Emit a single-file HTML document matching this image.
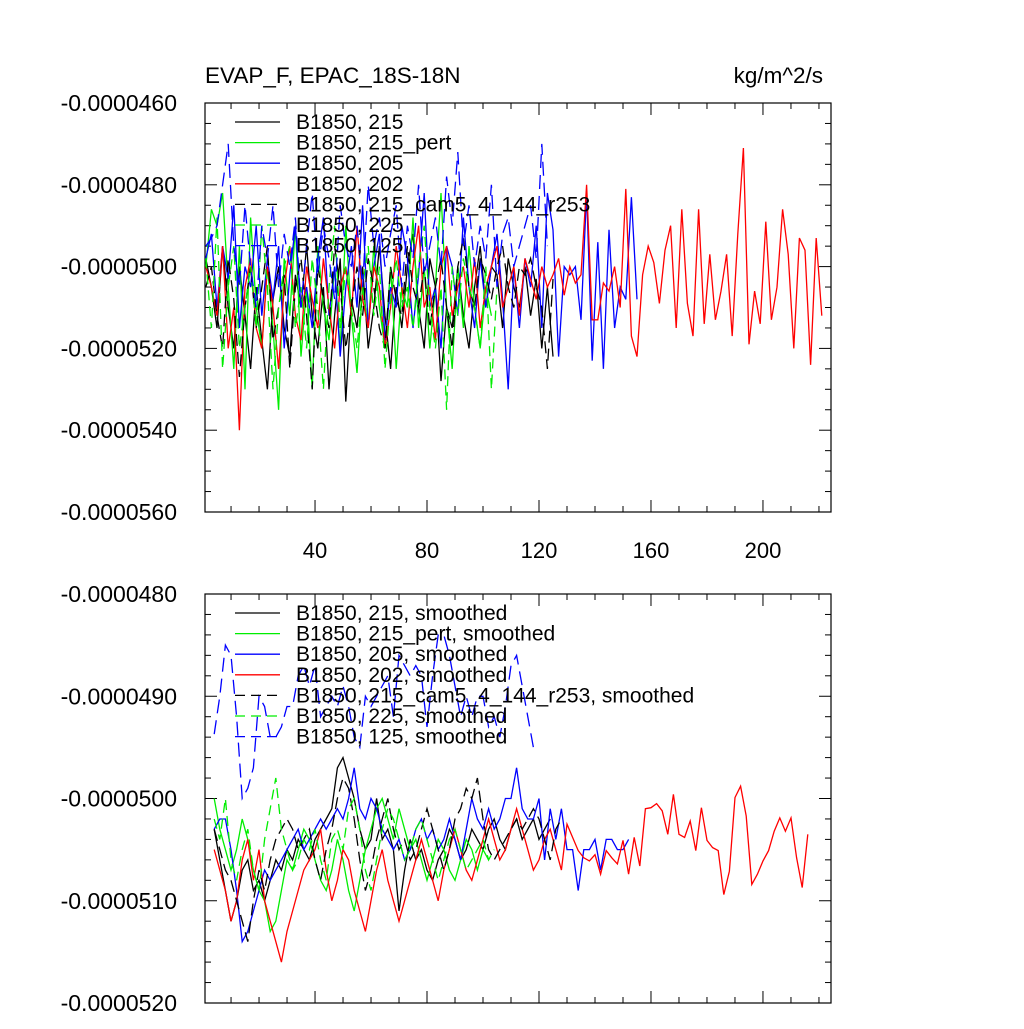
<!DOCTYPE html>
<html><head><meta charset="utf-8"><style>
body{margin:0;background:#fff;}
svg text{font-family:"Liberation Sans",sans-serif;}
</style></head><body>
<svg id="chart" width="1024" height="1024" xmlns="http://www.w3.org/2000/svg"></svg>
<script>
// ---- data (values in units of 1e-7 kg/m^2/s) ----
const xTicks = [40, 80, 120, 160, 200];
const topYTicks = [-460, -480, -500, -520, -540, -560];
const botYTicks = [-480, -490, -500, -510, -520];
const legendTop = ["B1850, 215", "B1850, 215_pert", "B1850, 205", "B1850, 202", "B1850, 215_cam5_4_144_r253", "B1850, 225", "B1850, 125"];
const legendBot = ["B1850, 215, smoothed", "B1850, 215_pert, smoothed", "B1850, 205, smoothed", "B1850, 202, smoothed", "B1850, 215_cam5_4_144_r253, smoothed", "B1850, 225, smoothed", "B1850, 125, smoothed"];
// top panel raw series: start t=1, step 2
const topBlack = [-498,-505,-515,-495,-510,-520,-500,-512,-525,-505,-518,-530,-508,-500,-515,-522,-502,-510,-495,-512,-520,-505,-530,-512,-498,-533,-508,-515,-500,-520,-510,-495,-512,-525,-505,-515,-500,-492,-510,-520,-498,-505,-528,-510,-515,-500,-512,-520,-505,-495,-510,-500,-502,-515,-498,-505,-510,-500,-512,-503,-520,-505,-522];
const topGreen = [-500,-486,-490,-482,-505,-525,-495,-530,-488,-510,-520,-500,-515,-535,-498,-512,-490,-522,-505,-530,-495,-510,-518,-500,-520,-490,-512,-526,-505,-515,-495,-510,-520,-500,-525,-505,-510,-488,-515,-500,-520,-505,-482,-510,-525,-500,-515,-495,-510,-520,-505,-512];
const topBlue = [-498,-492,-510,-495,-503,-485,-515,-500,-505,-490,-512,-498,-508,-495,-520,-502,-490,-510,-505,-515,-498,-488,-512,-500,-522,-505,-495,-510,-485,-515,-500,-492,-518,-505,-510,-490,-498,-515,-502,-482,-510,-505,-520,-495,-500,-512,-488,-505,-515,-498,-510,-500,-492,-508,-530,-500,-515,-498,-505,-490,-515,-482,-491,-522,-500,-502,-500,-513,-482,-523,-494,-525,-491,-515,-505,-508,-483,-508];
const topRed = [-500,-505,-512,-495,-520,-510,-540,-505,-498,-515,-520,-500,-510,-525,-505,-495,-512,-518,-500,-508,-515,-498,-510,-520,-505,-500,-512,-490,-508,-515,-500,-505,-520,-510,-495,-505,-515,-500,-490,-510,-505,-518,-500,-495,-512,-505,-500,-510,-498,-515,-505,-500,-495,-510,-505,-500,-512,-498,-503,-508,-500,-505,-502,-498,-507,-500,-504,-502,
 -480,-513,-513,-504,-506,-500,-510,-481,-517,-522,-502,-495,-499,-509,-496,-490,-515,-486,-509,-517,-486,-514,-497,-513,-506,-497,-517,-492,-471,-519,-506,-514,-489,-513,-505,-486,-497,-520,-493,-496,-524,-493,-512];
const topBlackDash = [-505,-500,-512,-520,-498,-508,-527,-510,-500,-515,-505,-495,-518,-510,-502,-525,-505,-498,-512,-530,-500,-508,-515,-495,-505,-520,-510,-500,-512,-498,-505,-515,-520,-500,-508,-512,-495,-505,-510,-500,-515,-505,-498,-510,-520,-500,-493,-505,-510,-498,-502,-508,-500,-495,-505,-510,-500,-502,-498,-505,-510,-525,-503];
const topGreenDash = [-498,-515,-488,-525,-505,-495,-520,-510,-500,-515,-490,-505,-530,-510,-500,-495,-515,-505,-520,-498,-510,-530,-505,-490,-515,-500,-510,-520,-505,-495,-512,-500,-525,-508,-498,-510,-505,-515,-500,-490,-510,-520,-505,-535,-500,-512,-498,-505,-510,-520,-500,-530,-505];
const topBlueDash = [-495,-493,-490,-480,-470,-495,-505,-485,-500,-510,-490,-498,-485,-505,-492,-500,-488,-510,-495,-482,-502,-490,-498,-508,-485,-495,-500,-490,-505,-480,-495,-488,-500,-492,-485,-505,-490,-498,-480,-502,-495,-488,-500,-478,-490,-472,-495,-485,-500,-490,-498,-480,-505,-492,-488,-500,-495,-490,-485,-498,-470,-495];
// bottom panel smoothed series: start t=4, step 2
const botBlack = [-503,-506,-509,-512,-510,-507,-506,-509,-508,-510,-508,-506,-507,-505,-506,-504,-505,-506,-504,-503,-502,-501,-497,-496,-498,-500,-503,-505,-504,-500,-504,-503,-505,-511,-507,-504,-506,-505,-507,-508,-506,-505,-503,-504,-506,-505,-503,-504,-505,-503,-502,-504,-505,-503,-502,-504,-503,-502,-504,-503,-502];
const botGreen = [-500,-503,-505,-507,-505,-502,-504,-507,-509,-510,-513,-512,-509,-506,-507,-505,-503,-504,-506,-508,-509,-507,-504,-506,-509,-511,-508,-505,-503,-501,-500,-502,-504,-501,-503,-505,-504,-506,-508,-506,-504,-505,-507,-508,-506,-504,-505,-507,-505,-506];
const botBlue = [-503,-502,-502,-505,-509,-514,-513,-511,-509,-507,-508,-507,-506,-505,-504,-503,-505,-504,-503,-502,-503,-502,-501,-502,-500,-497,-501,-502,-500,-501,-503,-504,-505,-504,-506,-505,-503,-502,-504,-503,-505,-504,-502,-504,-506,-503,-500,-502,-503,-501,-503,-502,-500,-500,-497,-501,-502,-502,-500,-506,-501,-504,-501,-505,-505,-509,-505,-505,-504,-507,-504,-504,-505,-505,-504];
const botRed = [-505,-507,-509,-512,-510,-506,-504,-508,-505,-510,-512,-514,-516,-513,-511,-509,-507,-506,-505,-503,-507,-510,-508,-505,-506,-509,-511,-513,-510,-507,-505,-508,-510,-512,-510,-508,-506,-504,-506,-508,-510,-507,-505,-503,-505,-507,-508,-506,-504,-502,-504,-506,-505,-503,-501,-503,-505,-507,-506,-504,-503,-505,-507,
 -502.5,-503.8,-505.1,-505.8,-506.1,-505.5,-507.4,-505.1,-505.8,-506.4,-504.1,-507.4,-503.8,-506.6,-501.0,-500.9,-500.5,-501.2,-503.5,-499.6,-503.5,-503.8,-502.2,-505.1,-500.9,-504.1,-504.8,-505.1,-509.4,-507.1,-499.9,-498.8,-501.7,-508.4,-507.4,-506.1,-505.1,-503.2,-501.9,-503.2,-501.9,-505.8,-508.7,-503.5];
const botBlackDash = [-503,-505,-507,-508,-510,-512,-514,-510,-507,-509,-506,-504,-503,-502,-503,-505,-504,-503,-506,-508,-505,-503,-500,-498,-499,-502,-506,-509,-507,-504,-502,-500,-503,-505,-504,-506,-505,-503,-501,-503,-505,-507,-505,-502,-501,-499,-500,-498,-502,-505,-506,-505,-504,-503,-502,-503,-502,-501,-502,-504,-506,-503,-502];
const botGreenDash = [-502,-504,-500,-506,-508,-505,-503,-507,-509,-504,-501,-498,-503,-505,-507,-506,-504,-505,-503,-506,-508,-504,-503,-505,-501,-500,-503,-507,-509,-506,-503,-501,-502,-504,-506,-505,-503,-502,-504,-506,-508,-506,-504,-503,-505,-507,-506,-505,-504,-506,-505];
const botBlueDash = [-493.7,-490,-485,-486,-492,-500,-499,-497,-490,-491,-494,-494,-493,-491,-491,-488,-487,-489,-487,-492,-491,-490,-491,-489,-491,-494,-495,-490,-491,-490,-489,-488,-492,-486,-487,-488,-487,-488,-493,-488,-484,-484,-486,-489,-492,-490,-492,-490,-490,-493,-492,-494,-491,-487,-486,-489,-492,-495,-495];

// ---- layout ----
const NS = "http://www.w3.org/2000/svg";
const svg = document.getElementById('chart');
const L = 205, R = 831, XMIN = 0.7, XMAX = 224.3;
const xs = t => L + (t - XMIN) / (XMAX - XMIN) * (R - L);
const topY = v => 103 + (-460 - v) / 100 * 409;
const botY = v => 594 + (-480 - v) / 40 * 409;
function mk(tag, attrs, parent) {
  const e = document.createElementNS(NS, tag);
  for (const k in attrs) e.setAttribute(k, attrs[k]);
  (parent || svg).appendChild(e);
  return e;
}
function fmt(v) { return (v * 1e-7).toFixed(7); }

function panel(name, T, B, yfn, yticks, minorStep, xLabels) {
  const g = mk('g', {});
  
  
  const fr = mk('rect', {x: L, y: T, width: R - L, height: B - T, fill: 'none', stroke: '#000', 'stroke-width': 1.2}, g);
  
  
  const ymax = yticks[0], ymin = yticks[yticks.length - 1];
  for (let v = ymax; v >= ymin - 0.001; v -= minorStep) {
    const y = yfn(v);
    const major = yticks.some(m => Math.abs(m - v) < 0.01);
    const len = major ? 12 : 6;
    mk('line', {x1: L, x2: L + len, y1: y, y2: y, stroke: '#000', 'stroke-width': 1}, g);
    mk('line', {x1: R, x2: R - len, y1: y, y2: y, stroke: '#000', 'stroke-width': 1}, g);
  }
  yticks.forEach(v => {
    const t = mk('text', {x: 177, y: yfn(v) + 8, 'text-anchor': 'end', 'font-size': 23}, g);
    t.textContent = fmt(v);
    
    
  });
  for (let t = 10; t < XMAX; t += 10) {
    const x = xs(t);
    const major = xTicks.includes(t);
    const len = major ? 12 : 6;
    mk('line', {x1: x, x2: x, y1: B, y2: B - len, stroke: '#000', 'stroke-width': 1}, g);
    mk('line', {x1: x, x2: x, y1: T, y2: T + len, stroke: '#000', 'stroke-width': 1}, g);
  }
  if (xLabels) xTicks.forEach(t => {
    const tx = mk('text', {x: xs(t), y: B + 46, 'text-anchor': 'middle', 'font-size': 22}, g);
    tx.textContent = t;
    
    
  });
  return g;
}

function series(name, vals, start, step, yfn, color, dash, clipId) {
  const pts = vals.map((v, i) => xs(start + i * step).toFixed(1) + ',' + yfn(v).toFixed(1)).join(' ');
  const p = mk('polyline', {points: pts, fill: 'none', stroke: color, 'stroke-width': 1.3, 'clip-path': 'url(#' + clipId + ')'});
  if (dash) p.setAttribute('stroke-dasharray', dash);
  
  
}

const defs = mk('defs', {});
const c1 = mk('clipPath', {id: 'ctop'}, defs); mk('rect', {x: L, y: 103, width: R - L, height: 409}, c1);
const c2 = mk('clipPath', {id: 'cbot'}, defs); mk('rect', {x: L, y: 594, width: R - L, height: 409}, c2);

panel('top', 103, 512, topY, topYTicks, 5, true);
panel('bottom', 594, 1003, botY, botYTicks, 2, false);

const colors = ['#000', '#00ee00', '#0000ff', '#ff0000', '#000', '#00ee00', '#0000ff'];
const dashes = [null, null, null, null, '12,6', '10,6', '14,7'];
const topData = [topBlack, topGreen, topBlue, topRed, topBlackDash, topGreenDash, topBlueDash];
const botData = [botBlack, botGreen, botBlue, botRed, botBlackDash, botGreenDash, botBlueDash];
const sNames = ['215', '215-pert', '205', '202', '215-cam5', '225', '125'];
topData.forEach((d, i) => series('top-line-' + sNames[i], d, 1, 2, topY, colors[i], dashes[i], 'ctop'));
botData.forEach((d, i) => series('bottom-line-' + sNames[i], d, 4, 2, botY, colors[i], dashes[i], 'cbot'));

function legend(name, labels, y0) {
  const g = mk('g', {});
  
  
  labels.forEach((lab, i) => {
    const y = y0 + i * 20.6;
    const ln = mk('line', {x1: 235, x2: 280, y1: y, y2: y, stroke: colors[i], 'stroke-width': 1.3}, g);
    if (dashes[i]) ln.setAttribute('stroke-dasharray', '10,6');
    const t = mk('text', {x: 296, y: y + 7, 'font-size': 21}, g);
    t.textContent = lab;
    
    
  });
}
legend('top-legend', legendTop, 122);
legend('bottom-legend', legendBot, 613);

const t1 = mk('text', {x: 205, y: 83, 'font-size': 22.5});
t1.textContent = 'EVAP_F, EPAC_18S-18N';


const t2 = mk('text', {x: 823, y: 83, 'font-size': 22.5, 'text-anchor': 'end'});
t2.textContent = 'kg/m^2/s';


</script>
</body></html>
